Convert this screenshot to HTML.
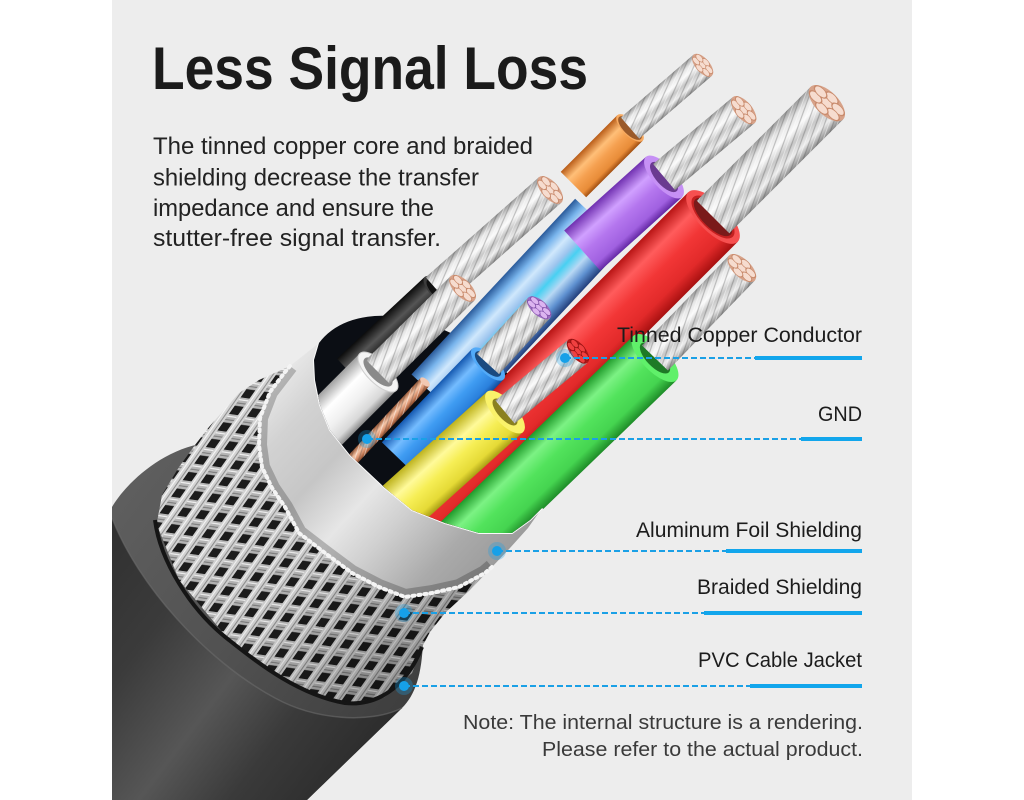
<!DOCTYPE html>
<html><head><meta charset="utf-8">
<style>html,body{margin:0;padding:0;background:#fff;width:1024px;height:800px;overflow:hidden;}svg{display:block}</style>
</head><body>
<svg width="1024" height="800" viewBox="0 0 1024 800" xmlns="http://www.w3.org/2000/svg" font-family="'Liberation Sans', Arial, sans-serif" overflow="hidden">
<defs>
  <clipPath id="panel"><rect x="112" y="0" width="800" height="800"/></clipPath>
  <clipPath id="wc"><path d="M-244,-74 L319,343 L314,360 L315,380 L320,405 L330,430 L350,455 L368,472 L385,488 L412,510 L445,523 L479,533 L512,533 L530,520 L542,508 L1105,925 L1150,-200 L-244,-200 Z"/></clipPath>
  <clipPath id="foilc"><polygon points="290,366 319,343 314,360 315,380 320,405 330,430 350,455 368,472 385,488 412,510 445,523 479,533 512,533 530,520 542,508 528,528 510,548 492,567 485,573 459,587 432,593 405,597 379,587 352,573 325,553 299,533 285,507 272,488 262,467 259,445 260,418 270,392 285,372"/></clipPath>

  <linearGradient id="jk" gradientUnits="userSpaceOnUse" x1="130" y1="480" x2="420" y2="700">
    <stop offset="0" stop-color="#2f2f2f"/><stop offset="0.3" stop-color="#3b3b3b"/><stop offset="0.55" stop-color="#565656"/><stop offset="0.75" stop-color="#3a3a3a"/><stop offset="1" stop-color="#2b2b2b"/>
  </linearGradient>
  <linearGradient id="rim" gradientUnits="userSpaceOnUse" x1="135" y1="480" x2="420" y2="690">
    <stop offset="0" stop-color="#5e5e5e"/><stop offset="0.5" stop-color="#515151"/><stop offset="1" stop-color="#3e3e3e"/>
  </linearGradient>
  <linearGradient id="foil" gradientUnits="userSpaceOnUse" x1="280" y1="350" x2="520" y2="570">
    <stop offset="0" stop-color="#f0f0f0"/><stop offset="0.18" stop-color="#d2d2d2"/><stop offset="0.35" stop-color="#c6c6c6"/><stop offset="0.5" stop-color="#e6e6e6"/><stop offset="0.62" stop-color="#d0d0d0"/><stop offset="0.8" stop-color="#aaaaaa"/><stop offset="1" stop-color="#959595"/>
  </linearGradient>
  <linearGradient id="brsh" gradientUnits="userSpaceOnUse" x1="170" y1="430" x2="440" y2="680">
    <stop offset="0" stop-color="#000" stop-opacity="0"/><stop offset="0.55" stop-color="#000" stop-opacity="0.05"/><stop offset="1" stop-color="#000" stop-opacity="0.35"/>
  </linearGradient>

  <pattern id="br" patternUnits="userSpaceOnUse" width="18" height="18" patternTransform="rotate(8) skewX(-27)">
    <rect width="18" height="18" fill="#1c1c1c"/>
    <rect x="0" y="0" width="18" height="9" fill="#b8b8b8"/>
    <line x1="0" y1="2.5" x2="18" y2="2.5" stroke="#f4f4f4" stroke-width="1.2"/>
    <line x1="0" y1="6" x2="18" y2="6" stroke="#787878" stroke-width="1"/>
    <rect x="0" y="0" width="9" height="18" fill="#d6d6d6"/>
    <line x1="2.5" y1="0" x2="2.5" y2="18" stroke="#fafafa" stroke-width="1.2"/>
    <line x1="6.2" y1="0" x2="6.2" y2="18" stroke="#828282" stroke-width="1"/>
  </pattern>
  <pattern id="tw" patternUnits="userSpaceOnUse" width="8" height="8" patternTransform="rotate(-25)">
    <line x1="0" y1="1" x2="8" y2="1" stroke="#444" stroke-opacity="0.3" stroke-width="1.2"/>
    <line x1="0" y1="5" x2="8" y2="5" stroke="#fff" stroke-opacity="0.45" stroke-width="1"/>
  </pattern>

  <linearGradient id="sil" x1="0" y1="0" x2="0" y2="1">
    <stop offset="0" stop-color="#9a9a9a"/><stop offset="0.2" stop-color="#e6e6e6"/><stop offset="0.4" stop-color="#fafafa"/><stop offset="0.6" stop-color="#c8c8c8"/><stop offset="0.8" stop-color="#ececec"/><stop offset="1" stop-color="#8a8a8a"/>
  </linearGradient>
  <linearGradient id="gR" x1="0" y1="0" x2="0" y2="1">
    <stop offset="0" stop-color="#b81414"/><stop offset="0.25" stop-color="#ff5c5c"/><stop offset="0.5" stop-color="#f23636"/><stop offset="0.8" stop-color="#e22a2a"/><stop offset="1" stop-color="#a81010"/>
  </linearGradient>
  <linearGradient id="gG" x1="0" y1="0" x2="0" y2="1">
    <stop offset="0" stop-color="#1f9a2a"/><stop offset="0.25" stop-color="#7cf284"/><stop offset="0.5" stop-color="#52e35c"/><stop offset="0.8" stop-color="#45d450"/><stop offset="1" stop-color="#1e8c28"/>
  </linearGradient>
  <linearGradient id="gY" x1="0" y1="0" x2="0" y2="1">
    <stop offset="0" stop-color="#bdb21c"/><stop offset="0.3" stop-color="#fffa9a"/><stop offset="0.55" stop-color="#f6ee55"/><stop offset="0.85" stop-color="#e5da36"/><stop offset="1" stop-color="#a99e14"/>
  </linearGradient>
  <linearGradient id="gB" x1="0" y1="0" x2="0" y2="1">
    <stop offset="0" stop-color="#1458b0"/><stop offset="0.3" stop-color="#74bcff"/><stop offset="0.55" stop-color="#3f9cf2"/><stop offset="0.85" stop-color="#2a80dc"/><stop offset="1" stop-color="#124c9c"/>
  </linearGradient>
  <linearGradient id="gP" x1="0" y1="0" x2="0" y2="1">
    <stop offset="0" stop-color="#7030b0"/><stop offset="0.3" stop-color="#d0a0ff"/><stop offset="0.55" stop-color="#b476ee"/><stop offset="0.85" stop-color="#a060e0"/><stop offset="1" stop-color="#6428a4"/>
  </linearGradient>
  <linearGradient id="gO" x1="0" y1="0" x2="0" y2="1">
    <stop offset="0" stop-color="#b85c18"/><stop offset="0.3" stop-color="#ffbf78"/><stop offset="0.55" stop-color="#f5a050"/><stop offset="0.85" stop-color="#e88c38"/><stop offset="1" stop-color="#a04e10"/>
  </linearGradient>
  <linearGradient id="gW" x1="0" y1="0" x2="0" y2="1">
    <stop offset="0" stop-color="#a0a0a0"/><stop offset="0.3" stop-color="#ffffff"/><stop offset="0.6" stop-color="#f0f0f0"/><stop offset="0.85" stop-color="#d8d8d8"/><stop offset="1" stop-color="#8a8a8a"/>
  </linearGradient>
  <linearGradient id="gK" x1="0" y1="0" x2="0" y2="1">
    <stop offset="0" stop-color="#0c0c0c"/><stop offset="0.35" stop-color="#555"/><stop offset="0.6" stop-color="#2a2a2a"/><stop offset="1" stop-color="#0a0a0a"/>
  </linearGradient>
  <linearGradient id="gF" x1="0" y1="0" x2="0" y2="1">
    <stop offset="0" stop-color="#2a5a9a"/><stop offset="0.15" stop-color="#78b4ec"/><stop offset="0.3" stop-color="#d0e8fc"/><stop offset="0.45" stop-color="#9cc4ee"/><stop offset="0.55" stop-color="#48d0f2"/><stop offset="0.7" stop-color="#b8d8f4"/><stop offset="0.85" stop-color="#5e90d0"/><stop offset="1" stop-color="#223e7a"/>
  </linearGradient>
  <linearGradient id="gC" x1="0" y1="0" x2="0" y2="1">
    <stop offset="0" stop-color="#9c5a38"/><stop offset="0.4" stop-color="#f4c4a6"/><stop offset="0.7" stop-color="#d8906c"/><stop offset="1" stop-color="#8a4a2a"/>
  </linearGradient>

  <g id="cu">
    <circle r="10" fill="#d7a289"/>
    <g fill="#f6dccf" stroke="#c88a6c" stroke-width="0.7">
      <circle r="3.4"/><circle cx="6.2" r="3.4"/><circle cx="3.1" cy="5.37" r="3.4"/><circle cx="-3.1" cy="5.37" r="3.4"/><circle cx="-6.2" r="3.4"/><circle cx="-3.1" cy="-5.37" r="3.4"/><circle cx="3.1" cy="-5.37" r="3.4"/>
    </g>
  </g>
  <g id="lil">
    <circle r="10" fill="#9a6cc0"/>
    <g fill="#dcb4f0" stroke="#8050a8" stroke-width="0.7">
      <circle r="3.4"/><circle cx="6.2" r="3.4"/><circle cx="3.1" cy="5.37" r="3.4"/><circle cx="-3.1" cy="5.37" r="3.4"/><circle cx="-6.2" r="3.4"/><circle cx="-3.1" cy="-5.37" r="3.4"/><circle cx="3.1" cy="-5.37" r="3.4"/>
    </g>
  </g>
  <g id="rdc">
    <circle r="10" fill="#b01818"/>
    <g fill="#f04040" stroke="#901010" stroke-width="0.7">
      <circle r="3.4"/><circle cx="6.2" r="3.4"/><circle cx="3.1" cy="5.37" r="3.4"/><circle cx="-3.1" cy="5.37" r="3.4"/><circle cx="-6.2" r="3.4"/><circle cx="-3.1" cy="-5.37" r="3.4"/><circle cx="3.1" cy="-5.37" r="3.4"/>
    </g>
  </g>
</defs>

<!-- panel -->
<rect x="112" y="0" width="800" height="800" fill="#ededed"/>

<g clip-path="url(#panel)">
  <!-- jacket: outline filled as rim face, then body below rim -->
  <path d="M112,507 C125,485 160,450 205,443 C260,436 330,470 380,515 C410,545 425,600 423,640 C422,675 415,695 402,708 L307,800 L112,800 Z" fill="url(#rim)"/>
  <path d="M112,518 C138,585 205,660 275,698 C315,720 370,724 402,708 L307,800 L112,800 Z" fill="url(#jk)"/>
  <path d="M112,518 C138,585 205,660 275,698 C315,720 370,724 402,708" fill="none" stroke="#6a6a6a" stroke-opacity="0.6" stroke-width="1.5"/>

  <!-- braid -->
  <polygon points="157,522 162,495 179,467 195,445 209,427 239,393 259,380 290,366 285,372 270,392 260,418 259,445 262,467 272,488 285,507 299,533 325,553 352,573 379,587 405,597 432,593 459,587 485,573 492,567 470,590 445,613 430,632 422,647 412,673 385,697 345,703 295,687 229,640 179,580 155,520" fill="url(#br)"/>
  <polygon points="157,522 162,495 179,467 195,445 209,427 239,393 259,380 290,366 285,372 270,392 260,418 259,445 262,467 272,488 285,507 299,533 325,553 352,573 379,587 405,597 432,593 459,587 485,573 492,567 470,590 445,613 430,632 422,647 412,673 385,697 345,703 295,687 229,640 179,580 155,520" fill="url(#brsh)"/>
  <path d="M155,520 C160,560 190,610 229,640 C260,665 300,695 345,703 C375,706 405,690 422,647" fill="none" stroke="#151515" stroke-width="4" stroke-linejoin="round"/>

  <!-- foil -->
  <polygon points="290,366 319,343 314,360 315,380 320,405 330,430 350,455 368,472 385,488 412,510 445,523 479,533 512,533 530,520 542,508 528,528 510,548 492,567 485,573 459,587 432,593 405,597 379,587 352,573 325,553 299,533 285,507 272,488 262,467 259,445 260,418 270,392 285,372" fill="url(#foil)"/>
  <g clip-path="url(#foilc)">
    <polyline points="290,366 270,392 260,418 259,445 262,467 272,488 285,507 299,533 325,553 352,573 379,587 405,597 432,593 459,587 485,573 492,567" fill="none" stroke="#000" stroke-opacity="0.22" stroke-width="16"/>
  </g>
  <polyline points="290,366 285,372 270,392 260,418 259,445 262,467 272,488 285,507 299,533 325,553 352,573 379,587 405,597 432,593 459,587 485,573 492,567" fill="none" stroke="#f4f4f4" stroke-width="4" stroke-dasharray="2 4" stroke-linecap="round"/>
  <polyline points="319,343 314,360 315,380 320,405 330,430 350,455 368,472 385,488 412,510 445,523 479,533 512,533 530,520 542,508" fill="none" stroke="#fafafa" stroke-width="2"/>

  <!-- opening interior -->
  <path d="M319,343 L314,360 L315,380 L320,405 L330,430 L350,455 L368,472 L385,488 L412,510 L445,523 L479,533 L512,533 L530,520 L542,508 A138.7,90 36.5 0 0 319,343 Z" fill="#0b0e14"/>

  <!-- wires -->
  <g clip-path="url(#wc)">
    <g transform="translate(600,222) rotate(-47)"><rect x="-240" y="-34" width="240" height="68" fill="url(#gF)"/></g>

    <g transform="translate(437,290) rotate(-43)">
      <rect x="-120" y="-18" width="120" height="36" fill="url(#gK)"/>
      <ellipse rx="7.6" ry="18" fill="#3c3c3c"/>
      <ellipse rx="6" ry="14" fill="#111"/>
      <g transform="rotate(1.5)">
        <rect x="0" y="-17" width="151" height="34" fill="url(#sil)"/>
        <rect x="0" y="-17" width="151" height="34" fill="url(#tw)"/>
        <use href="#cu" transform="translate(151,0) scale(0.85,1.7)"/>
      </g>
    </g>

    <g transform="translate(630,128) rotate(-45)">
      <rect x="-80" y="-18" width="80" height="36" fill="url(#gO)"/>
      <ellipse rx="7.6" ry="18" fill="#f7aa60"/>
      <ellipse rx="6.5" ry="15.5" fill="#9a5a2a"/>
      <g transform="rotate(4.2)">
        <rect x="0" y="-14" width="96" height="28" fill="url(#sil)"/>
        <rect x="0" y="-14" width="96" height="28" fill="url(#tw)"/>
        <use href="#cu" transform="translate(96,0) scale(0.7,1.4)"/>
      </g>
    </g>

    <g transform="translate(664,177) rotate(-42)">
      <rect x="-110" y="-27" width="110" height="54" fill="url(#gP)"/>
      <ellipse rx="11.3" ry="27" fill="#c690f5"/>
      <ellipse rx="8" ry="19" fill="#6a3a90"/>
      <g transform="rotate(2)">
        <rect x="0" y="-17" width="104" height="34" fill="url(#sil)"/>
        <rect x="0" y="-17" width="104" height="34" fill="url(#tw)"/>
        <use href="#cu" transform="translate(104,0) scale(0.85,1.7)"/>
      </g>
    </g>

    <g transform="translate(713,217) rotate(-45)">
      <rect x="-430" y="-35" width="430" height="70" fill="url(#gR)"/>
      <ellipse rx="14.7" ry="35" fill="#f65050"/>
      <ellipse rx="12" ry="28" fill="#c42020"/>
      <ellipse rx="10.5" ry="25" fill="#7a1a1a"/>
      <rect x="0" y="-23" width="161" height="46" fill="url(#sil)"/>
      <rect x="0" y="-23" width="161" height="46" fill="url(#tw)"/>
      <use href="#cu" transform="translate(161,0) scale(1.15,2.3)"/>
    </g>

    <g transform="translate(378,372) rotate(-45)">
      <rect x="-110" y="-26" width="110" height="52" fill="url(#gW)"/>
      <ellipse rx="11" ry="26" fill="#f4f4f4" stroke="#cfcfcf" stroke-width="1"/>
      <ellipse rx="8" ry="19" fill="#8a8a8a"/>
      <g transform="rotate(0.3)">
        <rect x="0" y="-17" width="119" height="34" fill="url(#sil)"/>
        <rect x="0" y="-17" width="119" height="34" fill="url(#tw)"/>
        <use href="#cu" transform="translate(119,0) scale(0.85,1.7)"/>
      </g>
    </g>

    <g transform="translate(445,458) rotate(-45)"><rect x="-100" y="-20" width="100" height="40" fill="url(#gF)"/></g>

    <g transform="translate(488,364) rotate(-46)">
      <rect x="-130" y="-22" width="130" height="44" fill="url(#gB)"/>
      <ellipse rx="9.2" ry="22" fill="#52aaf8"/>
      <ellipse rx="7" ry="17" fill="#1a4a80"/>
      <g transform="rotate(-1.7)">
        <rect x="0" y="-15" width="76" height="30" fill="url(#sil)"/>
        <rect x="0" y="-15" width="76" height="30" fill="url(#tw)"/>
        <use href="#lil" transform="translate(76,0) scale(0.75,1.5)"/>
      </g>
    </g>

    <g transform="translate(505,412) rotate(-42)">
      <rect x="-140" y="-27" width="140" height="54" fill="url(#gY)"/>
      <ellipse rx="11.3" ry="27" fill="#faf26a"/>
      <ellipse rx="7" ry="17" fill="#8a8020"/>
      <g transform="rotate(2.2)">
        <rect x="0" y="-15" width="95" height="30" fill="url(#sil)"/>
        <rect x="0" y="-15" width="95" height="30" fill="url(#tw)"/>
        <use href="#rdc" transform="translate(95,0) scale(0.75,1.5)"/>
      </g>
    </g>

    <g transform="translate(655,358) rotate(-44)">
      <rect x="-340" y="-31" width="340" height="62" fill="url(#gG)"/>
      <ellipse rx="13" ry="31" fill="#60f06a"/>
      <ellipse rx="8.5" ry="20" fill="#1e7a26"/>
      <g transform="rotate(-2)">
        <rect x="0" y="-18" width="125" height="36" fill="url(#sil)"/>
        <rect x="0" y="-18" width="125" height="36" fill="url(#tw)"/>
        <use href="#cu" transform="translate(125,0) scale(0.9,1.8)"/>
      </g>
    </g>

    <g transform="translate(425,382) rotate(-47)">
      <rect x="-115" y="-6" width="115" height="12" fill="url(#gC)"/>
      <rect x="-115" y="-6" width="115" height="12" fill="url(#tw)"/>
      <ellipse rx="3" ry="6" fill="#f2c8b2"/>
    </g>
  </g>
</g>

<!-- title & paragraph -->
<text x="152" y="89" font-size="60" font-weight="bold" fill="#1b1b1b" textLength="436" lengthAdjust="spacingAndGlyphs">Less Signal Loss</text>
<g font-size="24" fill="#222">
  <text x="153" y="154" textLength="380" lengthAdjust="spacingAndGlyphs">The tinned copper core and braided</text>
  <text x="153" y="185.5" textLength="326" lengthAdjust="spacingAndGlyphs">shielding decrease the transfer</text>
  <text x="153" y="216" textLength="281" lengthAdjust="spacingAndGlyphs">impedance and ensure the</text>
  <text x="153" y="246" textLength="288" lengthAdjust="spacingAndGlyphs">stutter-free signal transfer.</text>
</g>

<!-- leader lines -->
<g stroke="#1aa0e6" stroke-width="2" stroke-dasharray="6 3" fill="none">
  <line x1="565" y1="358" x2="755" y2="358"/>
  <line x1="367" y1="439" x2="801" y2="439"/>
  <line x1="497" y1="551" x2="726" y2="551"/>
  <line x1="404" y1="613" x2="704" y2="613"/>
  <line x1="404" y1="686" x2="750" y2="686"/>
</g>
<g fill="#12a6ec">
  <rect x="755" y="356" width="107" height="4"/>
  <rect x="801" y="437" width="61" height="4"/>
  <rect x="726" y="549" width="136" height="4"/>
  <rect x="704" y="611" width="158" height="4"/>
  <rect x="750" y="684" width="112" height="4"/>
</g>
<g>
  <circle cx="565" cy="358" r="9" fill="#1aa0e6" fill-opacity="0.3"/><circle cx="565" cy="358" r="5" fill="#16a0e8"/>
  <circle cx="367" cy="439" r="9" fill="#1aa0e6" fill-opacity="0.3"/><circle cx="367" cy="439" r="5" fill="#16a0e8"/>
  <circle cx="497" cy="551" r="9" fill="#1aa0e6" fill-opacity="0.3"/><circle cx="497" cy="551" r="5" fill="#16a0e8"/>
  <circle cx="404" cy="613" r="9" fill="#1aa0e6" fill-opacity="0.3"/><circle cx="404" cy="613" r="5" fill="#16a0e8"/>
  <circle cx="404" cy="686" r="9" fill="#1aa0e6" fill-opacity="0.3"/><circle cx="404" cy="686" r="5" fill="#16a0e8"/>
</g>

<!-- labels -->
<g font-size="21" fill="#1c1c1c" text-anchor="end">
  <text x="862" y="342" textLength="245" lengthAdjust="spacingAndGlyphs">Tinned Copper Conductor</text>
  <text x="862" y="421" textLength="44" lengthAdjust="spacingAndGlyphs">GND</text>
  <text x="862" y="537" textLength="226" lengthAdjust="spacingAndGlyphs">Aluminum Foil Shielding</text>
  <text x="862" y="594" textLength="165" lengthAdjust="spacingAndGlyphs">Braided Shielding</text>
  <text x="862" y="667" textLength="164" lengthAdjust="spacingAndGlyphs">PVC Cable Jacket</text>
</g>
<g font-size="20" fill="#3a3a3a" text-anchor="end">
  <text x="863" y="729" textLength="400" lengthAdjust="spacingAndGlyphs">Note: The internal structure is a rendering.</text>
  <text x="863" y="756" textLength="321" lengthAdjust="spacingAndGlyphs">Please refer to the actual product.</text>
</g>
</svg>
</body></html>
